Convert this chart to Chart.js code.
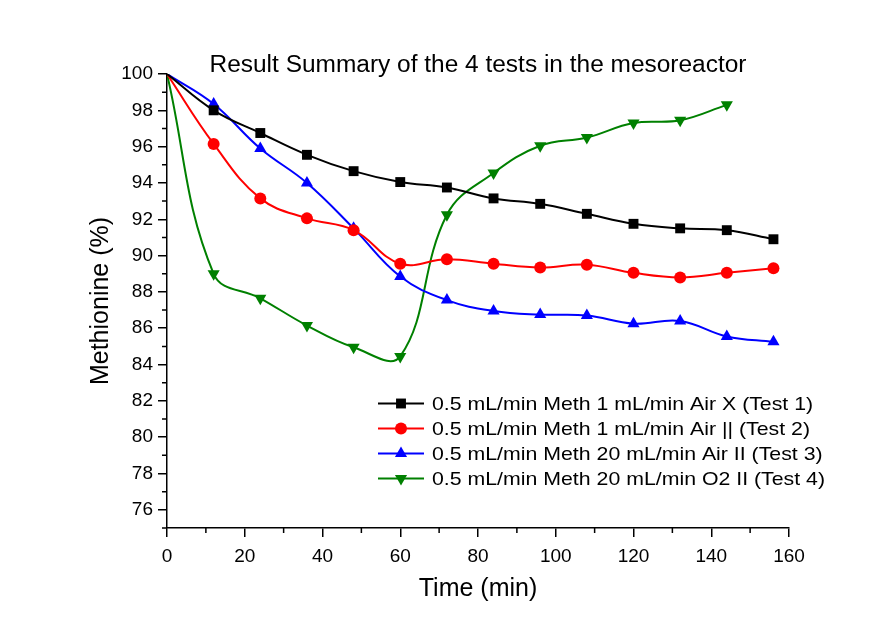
<!DOCTYPE html>
<html>
<head>
<meta charset="utf-8">
<script src="https://cdn.jsdelivr.net/npm/chart.js@4.4.1/dist/chart.umd.min.js"></script>
<style>
  html, body { margin: 0; padding: 0; background: #fff; }
  #wrap { width: 896px; height: 625px; }
</style>
</head>
<body>
<div id="wrap"><canvas id="myChart" width="896" height="625"></canvas></div>
<script>
// values
const times = [0, 12, 24, 36, 48, 60, 72, 84, 96, 108, 120, 132, 144, 156];
const test1 = [100, 98.0, 96.75, 95.55, 94.65, 94.05, 93.75, 93.15, 92.85, 92.3, 91.75, 91.5, 91.4, 90.9];
const test2 = [100, 96.15, 93.15, 92.05, 91.4, 89.55, 89.8, 89.55, 89.35, 89.5, 89.05, 88.8, 89.05, 89.3];
const test3 = [100, 98.35, 95.9, 94.0, 91.5, 88.85, 87.55, 86.95, 86.75, 86.7, 86.25, 86.4, 85.55, 85.25];
const test4 = [100, 89.0, 87.65, 86.15, 84.95, 84.45, 92.25, 94.55, 96.05, 96.5, 97.3, 97.45, 98.3];

const seriesNames = [
	"0.5 mL/min Meth 1 mL/min Air X (Test 1)",
	"0.5 mL/min Meth 1 mL/min Air || (Test 2)",
	"0.5 mL/min Meth 20 mL/min Air II (Test 3)",
	"0.5 mL/min Meth 20 mL/min O2 II (Test 4)"
];
const xTickLabels = [0, 20, 40, 60, 80, 100, 120, 140, 160];
const yTickLabels = [76, 78, 80, 82, 84, 86, 88, 90, 92, 94, 96, 98, 100];

const FONT = "'Liberation Sans', Arial, sans-serif";

function toPoints(vals) {
	return vals.map((v, i) => ({ x: times[i], y: v }));
}

function makeSet(label, vals, color, style, rot, size) {
	return {
		label: label,
		data: toPoints(vals),
		borderColor: color,
		backgroundColor: color,
		borderWidth: 2,
		pointStyle: style,
		rotation: rot,
		pointRadius: (ctx) => ctx.dataIndex === 0 ? 0 : size,
		pointHoverRadius: size,
		pointBorderWidth: 0,
		markerSize: size,
		tension: 0.4,
		fill: false
	};
}

// draws text squeezed/stretched to a given width
function fitText(ctx, text, x, y, width, align) {
	const w = ctx.measureText(text).width;
	const sx = width / w;
	ctx.save();
	ctx.translate(x, y);
	ctx.scale(sx, 1);
	ctx.textAlign = align;
	ctx.fillText(text, 0, 0);
	ctx.restore();
	return sx;
}

// title, minor ticks and the in-plot legend
const extras = {
	id: "extras",
	afterDraw(chart) {
		const ctx = chart.ctx;
		const area = chart.chartArea;
		const xs = chart.scales.x;
		const ys = chart.scales.y;
		ctx.save();

		ctx.fillStyle = "#000";
		ctx.font = "23px " + FONT;
		ctx.textBaseline = "middle";
		fitText(ctx, "Result Summary of the 4 tests in the mesoreactor", (area.left + area.right) / 2, 66, 537, "center");

		ctx.strokeStyle = "#000";
		ctx.lineWidth = 1.5;
		ctx.beginPath();
		for (let v = 75; v < 100; v += 2) {
			const y = ys.getPixelForValue(v);
			ctx.moveTo(area.left - 5, y);
			ctx.lineTo(area.left, y);
		}
		for (let v = 10; v < 160; v += 20) {
			const x = xs.getPixelForValue(v);
			ctx.moveTo(x, area.bottom);
			ctx.lineTo(x, area.bottom + 5);
		}
		ctx.stroke();

		// legend
		const lx = 378, ly = 403.5, gap = 25;
		ctx.font = "18.5px " + FONT;
		const sx = 393 / ctx.measureText(seriesNames[3]).width;
		chart.data.datasets.forEach((ds, i) => {
			const y = ly + i * gap;
			ctx.strokeStyle = ds.borderColor;
			ctx.lineWidth = 2;
			ctx.beginPath();
			ctx.moveTo(lx, y);
			ctx.lineTo(lx + 46, y);
			ctx.stroke();
			ctx.fillStyle = ds.backgroundColor;
			Chart.helpers.drawPoint(ctx, { pointStyle: ds.pointStyle, rotation: ds.rotation, radius: ds.markerSize, borderWidth: 0 }, lx + 23, y);
			ctx.fillStyle = "#000";
			const w = ctx.measureText(ds.label).width * sx;
			fitText(ctx, ds.label, lx + 54, y + 1, w, "left");
		});
		ctx.restore();
	}
};

new Chart("myChart", {
	type: "line",
	data: {
		datasets: [
			makeSet(seriesNames[0], test1, "#000000", "rect", 0, 7),
			makeSet(seriesNames[1], test2, "#ff0000", "circle", 0, 6),
			makeSet(seriesNames[2], test3, "#0000ff", "triangle", 0, 7),
			makeSet(seriesNames[3], test4, "#008000", "triangle", 180, 7)
		]
	},
	options: {
		responsive: false,
		animation: false,
		layout: { padding: { top: 74, right: 107, bottom: 0, left: 0 } },
		plugins: {
			legend: { display: false },
			title: { display: false },
			tooltip: { enabled: false }
		},
		scales: {
			x: {
				type: "linear",
				min: 0,
				max: 160,
				afterBuildTicks: (s) => { s.ticks = xTickLabels.map(v => ({ value: v })); },
				afterFit: (s) => { s.height = 97; },
				grid: { drawOnChartArea: false, drawTicks: true, tickLength: 9, color: "#000", tickColor: "#000", lineWidth: 1.5 },
				border: { color: "#000", width: 1.5 },
				ticks: { color: "#000", font: { family: FONT, size: 19 }, padding: 8, maxRotation: 0 },
				title: { display: true, text: "Time (min)", color: "#000", font: { family: FONT, size: 25 }, padding: { top: 0, bottom: 21 } }
			},
			y: {
				type: "linear",
				min: 75,
				max: 100,
				afterBuildTicks: (s) => { s.ticks = yTickLabels.map(v => ({ value: v })); },
				afterFit: (s) => { s.width = 167; },
				grid: { drawOnChartArea: false, drawTicks: true, tickLength: 9, color: "#000", tickColor: "#000", lineWidth: 1.5 },
				border: { color: "#000", width: 1.5 },
				ticks: { color: "#000", font: { family: FONT, size: 19 }, padding: 5 },
				title: { display: true, text: "Methionine (%)", color: "#000", font: { family: FONT, size: 25 }, padding: { top: 86, bottom: 0 } }
			}
		}
	},
	plugins: [extras]
});
</script>
</body>
</html>
